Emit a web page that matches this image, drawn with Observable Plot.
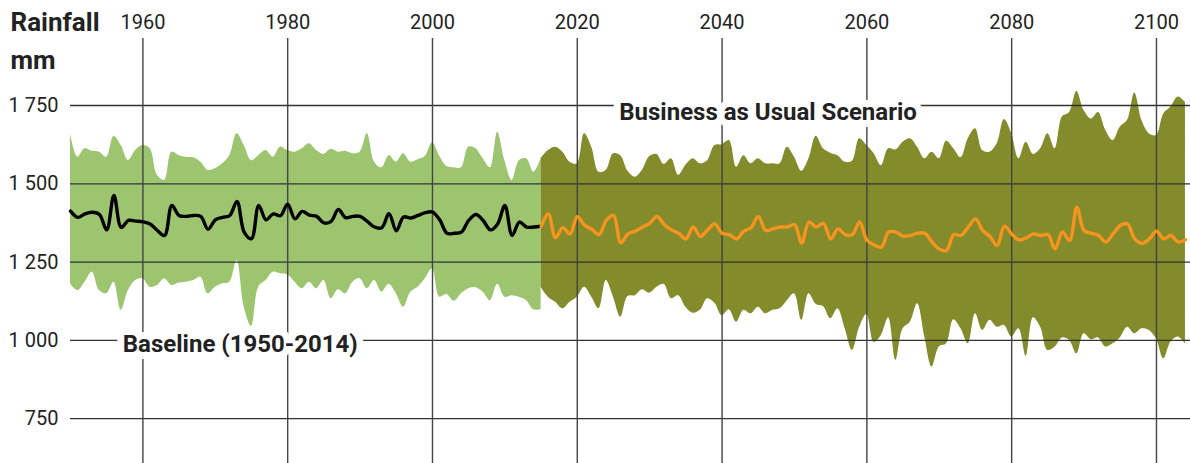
<!DOCTYPE html>
<html><head><meta charset="utf-8">
<script src="https://cdn.jsdelivr.net/npm/d3@7"></script>
<script src="https://cdn.jsdelivr.net/npm/@observablehq/plot@0.6"></script>
<style>body{margin:0;background:#fff;font-family:Roboto,sans-serif}</style>
</head><body><div id="chart"></div>
<script>
// Baseline 1950-2015 (yearly)
const baseStart = 1950;
const baseMean = [1413,1393,1404,1409,1402,1353,1463,1361,1383,1381,
  1379,1372,1351,1335,1431,1399,1396,1399,1396,1355,
  1385,1393,1399,1444,1345,1325,1431,1385,1404,1398,
  1435,1388,1412,1400,1396,1375,1380,1418,1392,1396,
  1396,1380,1362,1360,1405,1350,1394,1391,1399,1408,
  1410,1385,1342,1342,1346,1383,1402,1383,1353,1372,
  1431,1335,1378,1362,1362,1365];
const baseHi = [1660,1585,1612,1604,1601,1585,1651,1622,1574,1606,
  1622,1612,1527,1511,1601,1590,1585,1583,1569,1543,
  1548,1564,1590,1660,1622,1574,1590,1606,1585,1617,
  1606,1601,1612,1628,1606,1594,1610,1601,1604,1596,
  1601,1660,1569,1551,1590,1569,1596,1569,1577,1587,
  1631,1588,1555,1551,1551,1617,1612,1580,1551,1665,
  1574,1511,1574,1580,1537,1580];
const baseLo = [1181,1159,1186,1218,1159,1149,1186,1096,1159,1191,
  1197,1170,1175,1197,1175,1183,1186,1191,1202,1149,
  1170,1181,1186,1255,1106,1045,1170,1191,1218,1213,
  1210,1186,1165,1186,1165,1191,1133,1162,1149,1186,
  1197,1165,1191,1154,1179,1149,1106,1154,1170,1197,
  1229,1138,1147,1125,1149,1165,1168,1154,1127,1179,
  1138,1143,1138,1127,1098,1098];

// Business as Usual scenario 2015-2104 (yearly)
const scenStart = 2015;
const scenMean = [1364,1404,1328,1360,1340,1395,1368,1355,1338,1383,
  1400,1312,1340,1349,1362,1374,1396,1370,1353,1342,
  1324,1362,1332,1353,1372,1342,1338,1324,1349,1360,
  1396,1351,1356,1362,1362,1370,1311,1378,1362,1374,
  1324,1356,1338,1338,1378,1320,1305,1298,1346,1346,
  1333,1335,1342,1342,1314,1292,1287,1338,1335,1362,
  1388,1351,1332,1303,1365,1340,1321,1327,1340,1335,
  1338,1292,1346,1319,1425,1351,1342,1335,1314,1340,
  1367,1372,1324,1310,1324,1349,1324,1335,1314,1321];
const scenHi = [1580,1606,1617,1601,1569,1564,1660,1617,1537,1543,
  1596,1590,1540,1521,1543,1587,1594,1562,1580,1527,
  1559,1580,1564,1574,1622,1625,1638,1553,1590,1564,
  1580,1564,1564,1564,1617,1585,1540,1580,1652,1612,
  1598,1590,1569,1572,1644,1622,1596,1558,1612,1608,
  1633,1644,1617,1580,1601,1580,1636,1612,1583,1644,
  1676,1606,1601,1628,1705,1660,1580,1633,1594,1612,
  1660,1612,1713,1728,1795,1734,1707,1728,1670,1638,
  1681,1702,1790,1702,1660,1654,1723,1745,1777,1760];
const scenLo = [1170,1138,1122,1101,1122,1138,1170,1138,1101,1191,
  1138,1074,1140,1143,1162,1151,1170,1179,1133,1143,
  1106,1087,1096,1133,1119,1079,1098,1058,1096,1085,
  1106,1085,1096,1101,1127,1149,1064,1149,1115,1108,
  1069,1101,1037,968,1042,1083,994,1016,1072,936,
  1037,1058,1117,1011,915,979,989,1066,1037,989,
  1085,1032,1064,1042,1048,1011,1037,949,1072,1042,
  968,979,1008,1000,957,1021,1002,1008,979,989,
  1008,1042,1021,1037,1032,1005,941,995,1011,989];

const yearTicks = [1960,1980,2000,2020,2040,2060,2080,2100];
const valueTicks = [750,1000,1250,1500,1750];
const axisTitle = ["Rainfall","mm"];
const scenarioNote = [{label:"Business as Usual Scenario", year:2046.35, value:1750}];
const baselineNote = [{label:"Baseline (1950-2014)", year:1973.45, value:1000}];

const baseline = baseMean.map((m,i)=>({year: baseStart+i, mean:m, hi: baseHi[i], lo: baseLo[i]}));
const scenario = scenMean.map((m,i)=>({year: scenStart+i, mean:m, hi: scenHi[i], lo: scenLo[i]}));

const fmt = d3.formatLocale({decimal:".", thousands:" ", grouping:[3], currency:["",""]}).format(",");
const noteStyle = {x:"year", y:"value", text:"label", fontWeight:"bold", fontSize:24, fill:"#222",
  stroke:"#fff", strokeWidth:14, strokeLinejoin:"round", paintOrder:"stroke"};

const chart = Plot.plot({
  width:1190, height:463, marginLeft:70, marginRight:0, marginTop:38, marginBottom:0,
  style:{fontFamily:"Roboto, sans-serif", background:"#fff", overflow:"visible"},
  x:{domain:[1950,2104.7], axis:null},
  y:{domain:[607,1964], axis:null},
  marks:[
    Plot.areaY(baseline,{x:"year", y1:"lo", y2:"hi", fill:"#9dc46f", curve:"catmull-rom"}),
    Plot.areaY(scenario,{x:"year", y1:"lo", y2:"hi", fill:"#838b2b", curve:"catmull-rom"}),
    Plot.ruleY(valueTicks,{y:d=>d, stroke:"#333", strokeWidth:1.3}),
    Plot.ruleX(yearTicks,{x:d=>d, stroke:"#444", strokeWidth:1.4}),
    Plot.lineY(baseline,{x:"year", y:"mean", stroke:"#000", strokeWidth:3.4, curve:"catmull-rom"}),
    Plot.lineY(scenario,{x:"year", y:"mean", stroke:"#f7941d", strokeWidth:3.4, curve:"catmull-rom"}),
    Plot.text(valueTicks,{y:d=>d, text:d=>fmt(d), frameAnchor:"left", dx:-12, textAnchor:"end", lineAnchor:"middle", fontSize:20, fill:"#222"}),
    Plot.text(yearTicks,{x:d=>d, text:d=>String(d), frameAnchor:"top", lineAnchor:"middle", dy:-16, fontSize:20, fill:"#222"}),
    Plot.text([axisTitle[0]],{text:d=>d, frameAnchor:"top-left", lineAnchor:"middle", dx:-60, dy:-16, textAnchor:"start", fontWeight:"bold", fontSize:26, fill:"#222"}),
    Plot.text([axisTitle[1]],{text:d=>d, frameAnchor:"top-left", lineAnchor:"middle", dx:-60, dy:22, textAnchor:"start", fontWeight:"bold", fontSize:26, fill:"#222"}),
    Plot.text(scenarioNote,{...noteStyle, dy:7}),
    Plot.text(baselineNote,{...noteStyle, dy:4})
  ]
});
document.getElementById("chart").appendChild(chart);
</script>
</body></html>
